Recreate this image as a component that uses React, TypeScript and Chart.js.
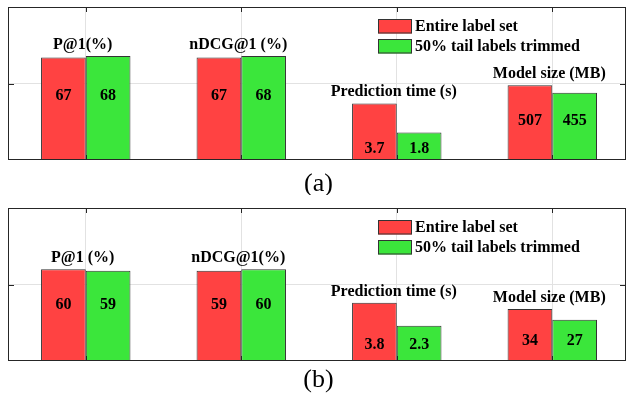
import React, { useEffect, useRef } from "react";
import { Chart, registerables } from "chart.js";
Chart.register(...registerables);

const seriesNames = ["Entire label set", "50% tail labels trimmed"];
const titlesA = ["P@1(%)", "nDCG@1 (%)", "Prediction time (s)", "Model size (MB)"];
const titlesB = ["P@1 (%)", "nDCG@1(%)", "Prediction time (s)", "Model size (MB)"];
const entireA = [67, 67, 3.7, 507];
const trimmedA = [68, 68, 1.8, 455];
const entireB = [60, 59, 3.8, 34];
const trimmedB = [59, 60, 2.3, 27];
// display scale used per group to put all metrics on a shared 0-100 axis
const plotScaleA = [1, 1, 10, 0.0965];
const plotScaleB = [1, 1, 10, 1];
const yGridTicks = [50];

const RED = "#ff4242";
const GREEN = "#3be63b";
const EDGE = "#333333";
const AXIS = "#262626";
const GRID = "#e2e2e2";
const SERIF = '"Liberation Serif", "Times New Roman", serif';

type PanelProps = {
  titles: string[];
  entire: number[];
  trimmed: number[];
  scale: number[];
  caption: string;
  height: number;
  padTop: number;
  padBottom: number;
  captionY: number;
};

function Panel(p: PanelProps) {
  const ref = useRef<HTMLCanvasElement | null>(null);
  useEffect(() => {
    if (!ref.current) return;
    const mk = (vals: number[]) => vals.map((v, i) => ({ x: i + 1, y: v * p.scale[i] }));
    const fmt = (v: number) => String(v);
    const overlay = {
      id: "overlay",
      afterDraw(chart: any) {
        const ctx = chart.ctx as CanvasRenderingContext2D;
        const ca = chart.chartArea;
        const xs = chart.scales.x;
        const ys = chart.scales.y;
        ctx.save();
        // frame
        ctx.strokeStyle = AXIS;
        ctx.lineWidth = 1;
        ctx.strokeRect(ca.left + 0.5, ca.top + 0.5, ca.right - ca.left - 1, ca.bottom - ca.top - 1);
        // tick marks
        ctx.beginPath();
        p.titles.forEach((_, i) => {
          const x = Math.round(xs.getPixelForValue(i + 1)) + 0.5;
          ctx.moveTo(x, ca.top);
          ctx.lineTo(x, ca.top + 5);
          ctx.moveTo(x, ca.bottom);
          ctx.lineTo(x, ca.bottom - 5);
        });
        yGridTicks.forEach((v) => {
          const y = Math.round(ys.getPixelForValue(v)) + 0.5;
          ctx.moveTo(ca.left, y);
          ctx.lineTo(ca.left + 6, y);
          ctx.moveTo(ca.right, y);
          ctx.lineTo(ca.right - 6, y);
        });
        ctx.stroke();

        // bar values and group titles
        const m0 = chart.getDatasetMeta(0);
        const m1 = chart.getDatasetMeta(1);
        ctx.fillStyle = "#000";
        ctx.textAlign = "center";
        ctx.textBaseline = "middle";
        p.titles.forEach((t, i) => {
          const b0 = m0.data[i];
          const b1 = m1.data[i];
          const h0 = p.entire[i] * p.scale[i];
          const h1 = p.trimmed[i] * p.scale[i];
          const labelVal = 0.72 * Math.min(h0, h1) - 6;
          const ly = ys.getPixelForValue(labelVal);
          ctx.font = `bold 16px ${SERIF}`;
          ctx.fillText(fmt(p.entire[i]), b0.x, ly);
          ctx.fillText(fmt(p.trimmed[i]), b1.x, ly);
          const top = Math.min(b0.y, b1.y);
          ctx.fillText(t, xs.getPixelForValue(i + 1) - 3, top - 11.5);
        });

        // legend
        const lx = 378;
        const colors = [RED, GREEN];
        seriesNames.forEach((name, k) => {
          const by = ca.top + 12 + k * 20;
          ctx.fillStyle = colors[k];
          ctx.fillRect(lx, by, 34, 14.5);
          ctx.strokeStyle = EDGE;
          ctx.strokeRect(lx + 0.5, by + 0.5, 33, 13.5);
          ctx.fillStyle = "#000";
          ctx.textAlign = "left";
          ctx.font = `bold 16px ${SERIF}`;
          ctx.fillText(name, lx + 37, by + 8);
        });

        // caption
        ctx.textAlign = "center";
        ctx.font = `26px ${SERIF}`;
        ctx.fillText(p.caption, 318.5, p.captionY);
        ctx.restore();
      },
    };
    const chart = new Chart(ref.current, {
      type: "bar",
      data: {
        datasets: [
          {
            label: seriesNames[0],
            data: mk(p.entire),
            backgroundColor: RED,
            borderColor: EDGE,
            borderWidth: 1,
            categoryPercentage: 0.575,
            barPercentage: 1,
          },
          {
            label: seriesNames[1],
            data: mk(p.trimmed),
            backgroundColor: GREEN,
            borderColor: EDGE,
            borderWidth: 1,
            categoryPercentage: 0.575,
            barPercentage: 1,
          },
        ] as any,
      },
      options: {
        animation: false,
        responsive: false,
        maintainAspectRatio: false,
        layout: { padding: { top: p.padTop, bottom: p.padBottom, left: 8, right: 1 } },
        plugins: { legend: { display: false }, tooltip: { enabled: false } },
        scales: {
          x: {
            type: "linear",
            min: 0.5,
            max: 4.474,
            offset: false,
            afterBuildTicks: (ax: any) => {
              ax.ticks = p.titles.map((_, i) => ({ value: i + 1 }));
            },
            ticks: { display: false },
            grid: { color: GRID, drawTicks: false, offset: false },
            border: { display: false },
          },
          y: {
            min: 0,
            max: 100,
            afterBuildTicks: (ax: any) => {
              ax.ticks = yGridTicks.map((v) => ({ value: v }));
            },
            ticks: { display: false },
            grid: { color: GRID, drawTicks: false },
            border: { display: false },
          },
        } as any,
      },
      plugins: [overlay],
    });
    return () => chart.destroy();
  }, []);
  return <canvas ref={ref} width={627} height={p.height} style={{ display: "block" }} />;
}

export default function App() {
  return (
    <div style={{ position: "absolute", left: 0, top: 0, width: 627, height: 394, background: "#fff" }}>
      <Panel titles={titlesA} entire={entireA} trimmed={trimmedA} scale={plotScaleA} caption="(a)" height={195} padTop={7} padBottom={35} captionY={184} />
      <Panel titles={titlesB} entire={entireB} trimmed={trimmedB} scale={plotScaleB} caption="(b)" height={199} padTop={13} padBottom={33} captionY={185} />
    </div>
  );
}
